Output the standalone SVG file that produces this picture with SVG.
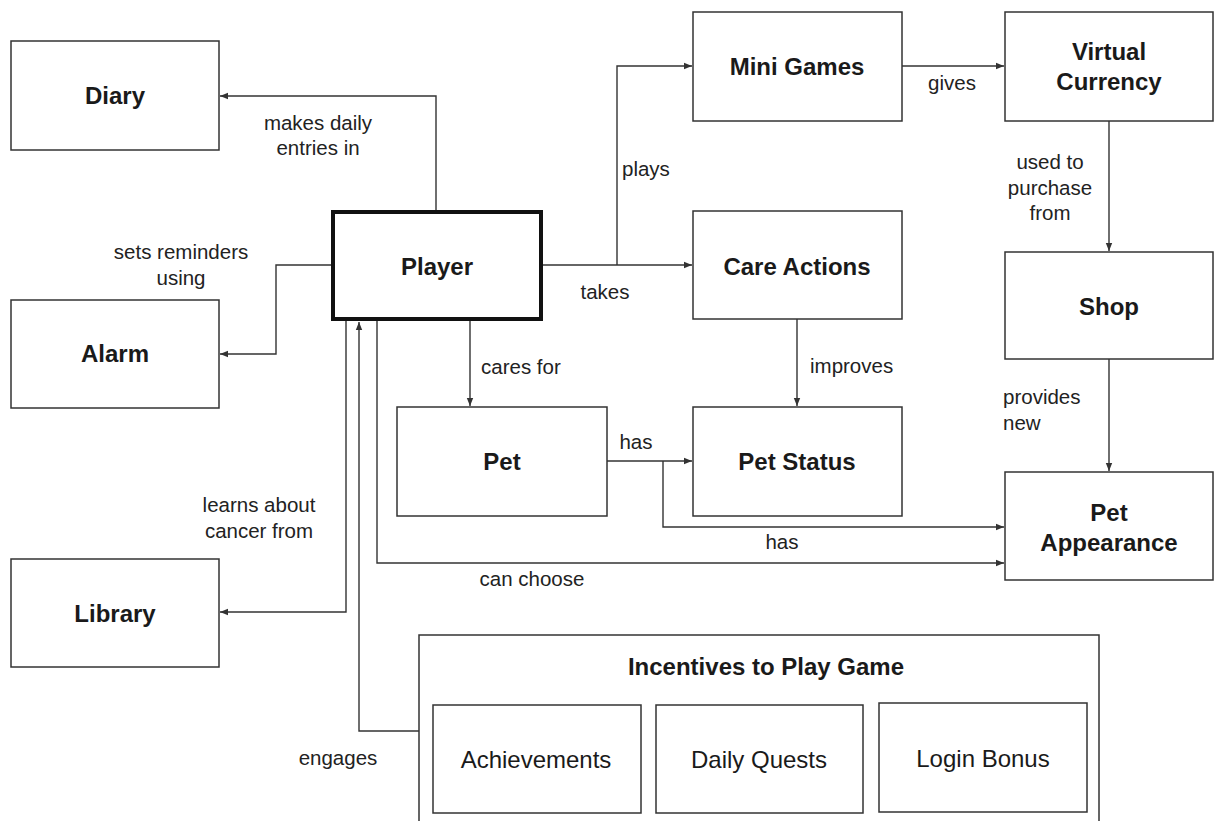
<svg xmlns="http://www.w3.org/2000/svg" width="1214" height="821" viewBox="0 0 1214 821">
<style>
.box{fill:#fff;stroke:#333;stroke-width:1.5}
.main{fill:#fff;stroke:#111;stroke-width:4}
.lbl{font-family:"Liberation Sans",Arial,sans-serif;font-weight:bold;font-size:24px;fill:#1a1a1a;text-anchor:middle}
.sub{font-family:"Liberation Sans",Arial,sans-serif;font-size:24px;fill:#1a1a1a;text-anchor:middle}
.el{font-family:"Liberation Sans",Arial,sans-serif;font-size:20.5px;fill:#222;text-anchor:middle}
.st{text-anchor:start}
.c{fill:none;stroke:#333;stroke-width:1.4}
</style>
<defs>
<marker id="ah" markerUnits="userSpaceOnUse" markerWidth="9" markerHeight="8" refX="8" refY="4" orient="auto">
<path d="M0,0.8 L8,4 L0,7.2 Z" fill="#333"/>
</marker>
</defs>
<rect width="1214" height="821" fill="#fff"/>
<g id="connectors">
<path class="c" d="M436,210 V96 H220" marker-end="url(#ah)"/>
<path class="c" d="M333,265 H276 V354 H220" marker-end="url(#ah)"/>
<path class="c" d="M346,321 V612 H220" marker-end="url(#ah)"/>
<path class="c" d="M419,731 H359 V322" marker-end="url(#ah)"/>
<path class="c" d="M377,321 V563 H1004" marker-end="url(#ah)"/>
<path class="c" d="M470,321 V406" marker-end="url(#ah)"/>
<path class="c" d="M542,265 H692" marker-end="url(#ah)"/>
<path class="c" d="M617,265 V66 H692" marker-end="url(#ah)"/>
<path class="c" d="M902,66 H1004" marker-end="url(#ah)"/>
<path class="c" d="M1109,121 V251" marker-end="url(#ah)"/>
<path class="c" d="M1109,359 V471" marker-end="url(#ah)"/>
<path class="c" d="M797,319 V406" marker-end="url(#ah)"/>
<path class="c" d="M607,461 H692" marker-end="url(#ah)"/>
<path class="c" d="M663,461 V527 H1004" marker-end="url(#ah)"/>
<text class="el" x="318" y="130">makes daily</text>
<text class="el" x="318" y="155">entries in</text>
<text class="el" x="181" y="259">sets reminders</text>
<text class="el" x="181" y="285">using</text>
<text class="el" x="259" y="512">learns about</text>
<text class="el" x="259" y="538">cancer from</text>
<text class="el" x="338" y="765">engages</text>
<text class="el" x="532" y="586">can choose</text>
<text class="el st" x="481" y="374">cares for</text>
<text class="el st" x="622" y="176">plays</text>
<text class="el" x="605" y="299">takes</text>
<text class="el" x="636" y="449">has</text>
<text class="el" x="782" y="549">has</text>
<text class="el st" x="810" y="373">improves</text>
<text class="el" x="952" y="90">gives</text>
<text class="el" x="1050" y="169">used to</text>
<text class="el" x="1050" y="195">purchase</text>
<text class="el" x="1050" y="220">from</text>
<text class="el st" x="1003" y="404">provides</text>
<text class="el st" x="1003" y="430">new</text>
</g>
<g id="diary"><rect class="box" x="11" y="41" width="208" height="109"/><text class="lbl" x="115" y="104">Diary</text></g>
<g id="alarm"><rect class="box" x="11" y="300" width="208" height="108"/><text class="lbl" x="115" y="362">Alarm</text></g>
<g id="library"><rect class="box" x="11" y="559" width="208" height="108"/><text class="lbl" x="115" y="622">Library</text></g>
<g id="player"><rect class="main" x="333" y="212" width="208" height="107"/><text class="lbl" x="437" y="275">Player</text></g>
<g id="mini-games"><rect class="box" x="693" y="12" width="209" height="109"/><text class="lbl" x="797" y="75">Mini Games</text></g>
<g id="virtual-currency"><rect class="box" x="1005" y="12" width="208" height="109"/><text class="lbl" x="1109" y="60">Virtual</text><text class="lbl" x="1109" y="90">Currency</text></g>
<g id="care-actions"><rect class="box" x="693" y="211" width="209" height="108"/><text class="lbl" x="797" y="275">Care Actions</text></g>
<g id="shop"><rect class="box" x="1005" y="252" width="208" height="107"/><text class="lbl" x="1109" y="315">Shop</text></g>
<g id="pet"><rect class="box" x="397" y="407" width="210" height="109"/><text class="lbl" x="502" y="470">Pet</text></g>
<g id="pet-status"><rect class="box" x="693" y="407" width="209" height="109"/><text class="lbl" x="797" y="470">Pet Status</text></g>
<g id="pet-appearance"><rect class="box" x="1005" y="472" width="208" height="108"/><text class="lbl" x="1109" y="521">Pet</text><text class="lbl" x="1109" y="551">Appearance</text></g>
<g id="incentives">
<rect class="box" x="419" y="635" width="680" height="210"/>
<text class="lbl" x="766" y="675">Incentives to Play Game</text>
<g id="achievements"><rect class="box" x="433" y="705" width="208" height="108"/><text class="sub" x="536" y="768">Achievements</text></g>
<g id="daily-quests"><rect class="box" x="656" y="705" width="207" height="108"/><text class="sub" x="759" y="768">Daily Quests</text></g>
<g id="login-bonus"><rect class="box" x="879" y="703" width="208" height="109"/><text class="sub" x="983" y="767">Login Bonus</text></g>
</g>
</svg>
